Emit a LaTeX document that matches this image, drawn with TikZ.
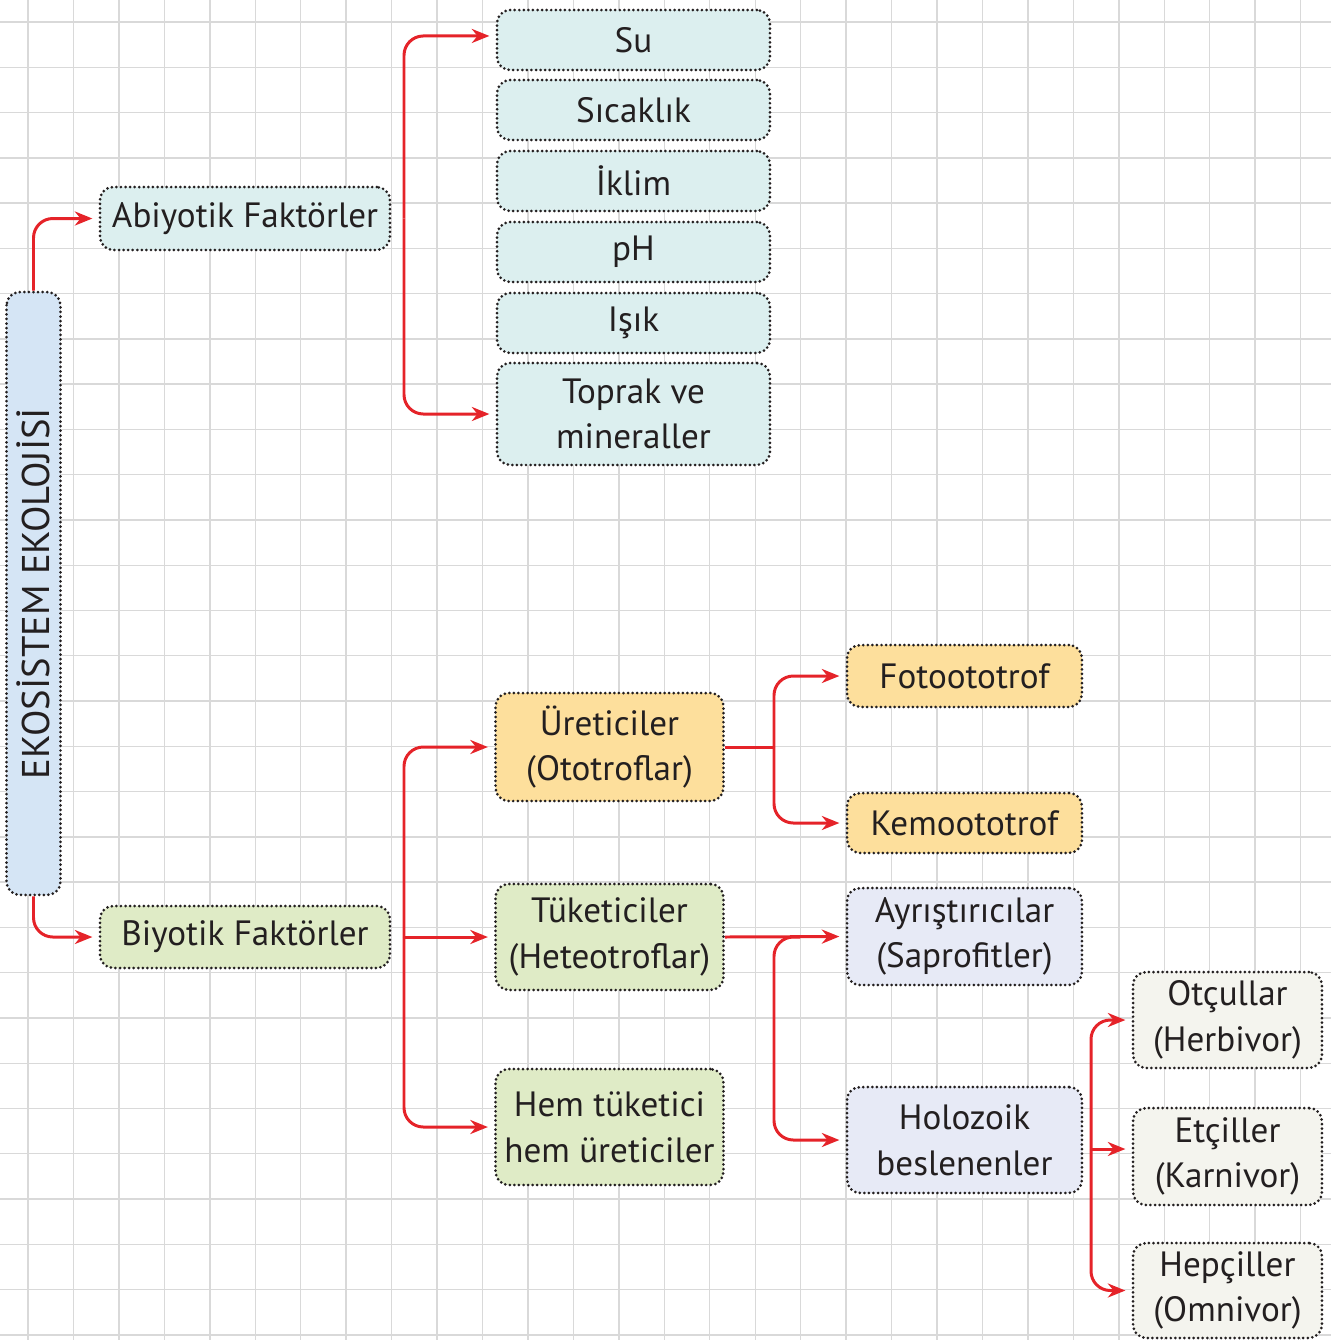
\documentclass[tikz,border=0pt]{standalone}
\usepackage{fontspec}
\setmainfont{PT Sans}
\usepackage{tikz}
\usetikzlibrary{arrows.meta}
\definecolor{cRed}{HTML}{E52329}
\definecolor{cInk}{HTML}{231F20}
\definecolor{cGrid}{HTML}{D9D9D9}
\definecolor{cSky}{HTML}{D5E5F5}
\definecolor{cAqua}{HTML}{DCEFEF}
\definecolor{cLeaf}{HTML}{DFEBC6}
\definecolor{cSand}{HTML}{FDDF9C}
\definecolor{cLilac}{HTML}{E7EAF6}
\definecolor{cPaper}{HTML}{F4F4EE}
\newcommand{\yazi}{\fontsize{20}{26}\selectfont}
\tikzset{
  tbox/.style={draw=cInk,fill=#1,rounded corners=7.5pt,line width=1.7pt,dash pattern=on 0pt off 2.6pt,line cap=round,align=center,font=\yazi,text=cInk,inner sep=2pt},
  tbox/.default=cAqua,
  lnk/.style={draw=cRed,line width=1.7pt,rounded corners=11pt},
  arr/.style={lnk,-{Stealth[length=10pt,width=8pt]},shorten >=3.5pt},
  gridln/.style={draw=cGrid,line width=0.8pt},
}

\begin{document}
\begin{tikzpicture}[x=0.02cm,y=-0.02cm]
  \useasboundingbox (0,0) rectangle (1331,1340);
  % squared paper
  \foreach \i in {0,...,28} \draw[gridln] ({28+45.45*\i},0) -- ({28+45.45*\i},1340);
  \foreach \j in {0,...,29} \draw[gridln] (0,{22+45.27*\j}) -- (1331,{22+45.27*\j});

  % root (rotated: east is the top end, west the bottom end)
  \node[tbox=cSky,rotate=90,minimum width=12.06cm,minimum height=1.08cm,font=\fontsize{22}{26}\selectfont] (root) at (33.5,593.5) {EKOSİSTEM EKOLOJİSİ};

  \node[tbox=cAqua,minimum width=5.8cm,minimum height=1.26cm] (abio) at (245,218.5) {Abiyotik Faktörler};
  \node[tbox=cLeaf,minimum width=5.8cm,minimum height=1.24cm] (bio) at (245,937) {Biyotik Faktörler};

  % abiotic factors
  \node[tbox=cAqua,minimum width=5.46cm,minimum height=1.2cm] (su) at (633.5,40) {Su};
  \node[tbox=cAqua,minimum width=5.46cm,minimum height=1.2cm] (sicak) at (633.5,110) {Sıcaklık};
  \node[tbox=cAqua,minimum width=5.46cm,minimum height=1.2cm] (iklim) at (633.5,181) {İklim};
  \node[tbox=cAqua,minimum width=5.46cm,minimum height=1.2cm] (ph) at (633.5,252) {pH};
  \node[tbox=cAqua,minimum width=5.46cm,minimum height=1.2cm] (isik) at (633.5,323) {Işık};
  \node[tbox=cAqua,minimum width=5.46cm,minimum height=2.04cm] (toprak) at (633.5,414) {Toprak ve\\mineraller};

  % biotic factors
  \node[tbox=cSand,minimum width=4.56cm,minimum height=2.16cm] (uret) at (609.5,747) {Üreticiler\\(Ototroflar)};
  \node[tbox=cLeaf,minimum width=4.56cm,minimum height=2.12cm] (tuket) at (609.5,937) {Tüketiciler\\(Heteotroflar)};
  \node[tbox=cLeaf,minimum width=4.56cm,minimum height=2.32cm] (hem) at (609.5,1127) {Hem tüketici\\hem üreticiler};

  \node[tbox=cSand,minimum width=4.7cm,minimum height=1.24cm] (foto) at (964.5,676) {Fotoototrof};
  \node[tbox=cSand,minimum width=4.7cm,minimum height=1.2cm] (kemo) at (964.5,823) {Kemoototrof};
  \node[tbox=cLilac,minimum width=4.7cm,minimum height=1.94cm] (ayris) at (964.5,936.5) {Ayrıştırıcılar\\(Saprofitler)};
  \node[tbox=cLilac,minimum width=4.7cm,minimum height=2.12cm] (holo) at (964.5,1140) {Holozoik\\beslenenler};

  \node[tbox=cPaper,minimum width=3.78cm,minimum height=1.92cm] (otcul) at (1227.5,1020) {Otçullar\\(Herbivor)};
  \node[tbox=cPaper,minimum width=3.78cm,minimum height=1.94cm] (etcil) at (1227.5,1156.5) {Etçiller\\(Karnivor)};
  \node[tbox=cPaper,minimum width=3.78cm,minimum height=1.9cm] (hepcil) at (1227.5,1290.5) {Hepçiller\\(Omnivor)};

  % branch points
  \coordinate (ab) at (404,218.5);
  \coordinate (bb) at (404,937);
  \coordinate (ub) at (774,747);
  \coordinate (tb) at (800,937);
  \coordinate (hb) at (1091,1149);

  \draw[arr] (root.east) |- (abio.west);
  \draw[arr] (root.west) |- (bio.west);

  \draw[arr] (ab) |- ([yshift=2.3pt]su.west);
  \draw[arr] (ab) |- (toprak.west);

  \draw[arr] (bb) |- (uret.west);
  \draw[arr] (bb) -- (tuket.west);
  \draw[arr] (bb) |- (hem.west);

  \draw[lnk] (uret.east) -- (ub);
  \draw[arr] (ub) |- (foto.west);
  \draw[arr] (ub) |- (kemo.west);

  \draw[arr] (tuket.east) -- (ayris.west);
  \draw[arr] (tb) -- ++(-26,0) |- (holo.west);

  \draw[arr] (hb) |- (otcul.west);
  \draw[arr] (hb) -- (hb -| etcil.west);
  \draw[arr] (hb) |- (hepcil.west);
\end{tikzpicture}
\end{document}
